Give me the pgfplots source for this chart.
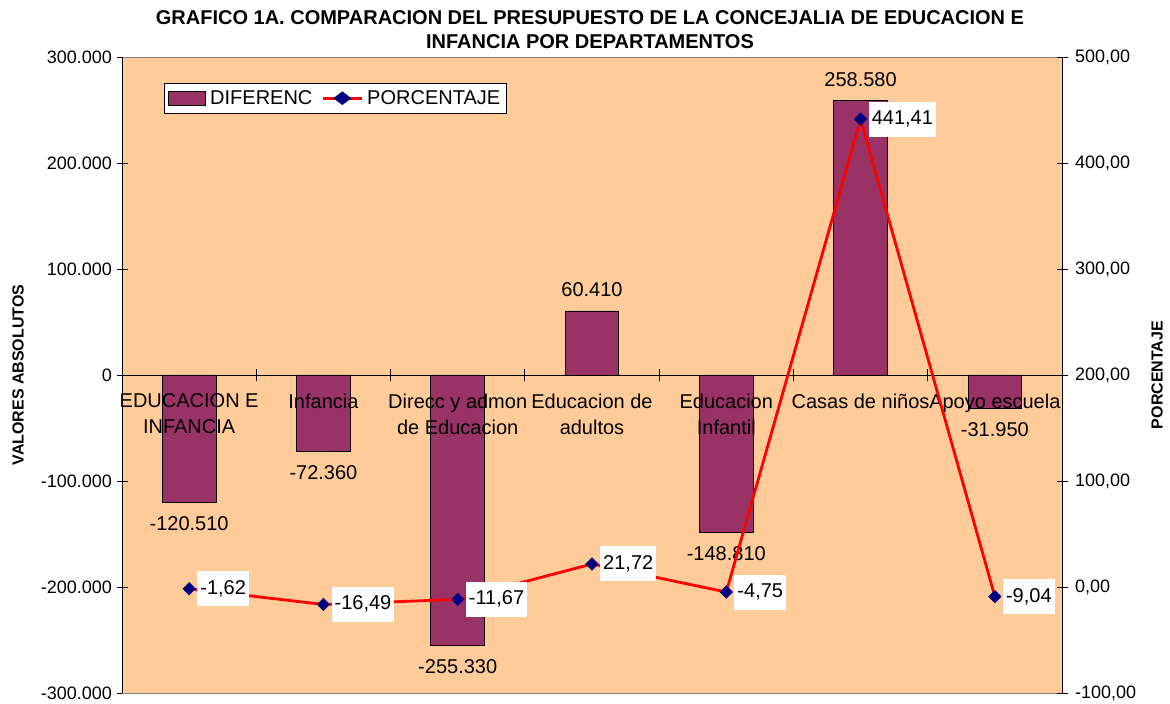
\documentclass[border=0pt]{standalone}
\usepackage{fontspec}
\setmainfont{Liberation Sans}
\usepackage{pgfplots}
\pgfplotsset{compat=1.18}
\definecolor{peach}{HTML}{FFCC99}
\definecolor{barc}{HTML}{993366}
\definecolor{navyc}{HTML}{000080}
\begin{document}
\begin{tikzpicture}[x=1pt,y=1pt]
\path[fill=white] (0,0) rectangle (1170,704);
\node[font=\fontsize{20}{24}\bfseries\selectfont, align=center] at (590,674)
  {GRAFICO 1A. COMPARACION DEL PRESUPUESTO DE LA CONCEJALIA DE EDUCACION E\\INFANCIA POR DEPARTAMENTOS};
\node[rotate=90, font=\fontsize{16}{18}\bfseries\selectfont] at (18,329) {VALORES ABSOLUTOS};
\node[rotate=90, font=\fontsize{16}{18}\bfseries\selectfont] at (1157,329) {PORCENTAJE};
\begin{axis}[
  at={(122pt,11pt)}, anchor=south west, width=940pt, height=636pt, scale only axis,
  xmin=-0.5, xmax=6.5, ymin=-300000, ymax=300000, ytick distance=100000,
  scaled y ticks=false,
  xtick=\empty, ytick pos=left,
  axis background/.style={fill=peach},
  axis line style={draw=gray},
  tick align=center, major tick length=11pt, tick style={black, line width=0.8pt},
  yticklabel style={xshift=-1pt, font=\fontsize{18}{20}\selectfont, /pgf/number format/.cd, fixed, precision=0, 1000 sep={.}, assume math mode=true},
  clip=false,
  legend style={at={(0.0447,0.959)}, anchor=north west, draw=black, fill=white, line width=0.8pt,
    font=\fontsize{20}{22}\selectfont, inner xsep=4pt, inner ysep=5pt,
    /tikz/every odd column/.style={column sep=2pt},
    /tikz/every even column/.style={column sep=7pt}},
  legend columns=2,
]
\addplot[ybar, bar width=0.4, fill=barc, draw=black, line width=0.9pt,
  legend image code/.code={\draw[fill=barc,draw=black,line width=0.8pt] (0pt,-7pt) rectangle (37pt,7pt);},
  nodes near coords, nodes near coords align=vertical, point meta=y,
  every node near coord/.append style={font=\fontsize{20}{22}\selectfont, inner ysep=13.5pt, text=black,
    /pgf/number format/.cd, fixed, precision=0, 1000 sep={.}, assume math mode=true}]
coordinates {(0,-120510) (1,-72360) (2,-255330) (3,60410) (4,-148810) (5,258580) (6,-31950)};
\addlegendentry{DIFERENC}
\addlegendimage{legend image code/.code={\draw[red,line width=2.8pt] (0pt,0pt) -- (39pt,0pt);
  \fill[navyc] (19.5pt,6.3pt) -- (27.9pt,0pt) -- (19.5pt,-6.3pt) -- (11.1pt,0pt) -- cycle;}}
\addlegendentry{PORCENTAJE}
\draw[black, line width=0.8pt] (axis cs:-0.5,0) -- (axis cs:6.5,0);
\draw[black, line width=0.8pt] ([yshift=-6pt]axis cs:0.5,0) -- ([yshift=6pt]axis cs:0.5,0);
\draw[black, line width=0.8pt] ([yshift=-6pt]axis cs:1.5,0) -- ([yshift=6pt]axis cs:1.5,0);
\draw[black, line width=0.8pt] ([yshift=-6pt]axis cs:2.5,0) -- ([yshift=6pt]axis cs:2.5,0);
\draw[black, line width=0.8pt] ([yshift=-6pt]axis cs:3.5,0) -- ([yshift=6pt]axis cs:3.5,0);
\draw[black, line width=0.8pt] ([yshift=-6pt]axis cs:4.5,0) -- ([yshift=6pt]axis cs:4.5,0);
\draw[black, line width=0.8pt] ([yshift=-6pt]axis cs:5.5,0) -- ([yshift=6pt]axis cs:5.5,0);
\draw[black, line width=0.9pt] (rel axis cs:0,0) -- (rel axis cs:0,1);
\begin{scope}[every node/.style={anchor=north, align=center, font=\fontsize{20}{26}\selectfont, yshift=-15pt}]
\node at (axis cs:0,0) {EDUCACION E\\INFANCIA};
\node at (axis cs:1,0) {Infancia};
\node at (axis cs:2,0) {Direcc y admon\\de Educacion};
\node at (axis cs:3,0) {Educacion de\\adultos};
\node at (axis cs:4,0) {Educacion\\Infantil};
\node at (axis cs:5,0) {Casas de niños};
\node at (axis cs:6,0) {Apoyo escuela};
\end{scope}
\end{axis}
\begin{axis}[
  at={(122pt,11pt)}, anchor=south west, width=940pt, height=636pt, scale only axis,
  xmin=-0.5, xmax=6.5, ymin=-100, ymax=500, ytick distance=100,
  axis y line*=right, axis x line=none,
  y axis line style={line width=0.9pt},
  tick align=center, major tick length=11pt, tick style={black, line width=0.8pt},
  yticklabel style={xshift=4pt, font=\fontsize{18}{20}\selectfont, /pgf/number format/.cd, fixed, fixed zerofill, precision=2, use comma, 1000 sep={}, assume math mode=true},
  clip=false,
]
\addplot[red, line width=2.8pt, mark=diamond*, mark size=6.3pt,
  mark options={solid, fill=navyc, draw=navyc, line width=0.4pt, xscale=1.33},
  nodes near coords, nodes near coords align={right}, point meta=y,
  every node near coord/.append style={font=\fontsize{20}{22}\selectfont, text=black, fill=white, xshift=8pt,
    inner xsep=3pt, inner ysep=8.5pt, text height=14.5pt, text depth=3.5pt,
    /pgf/number format/.cd, fixed, fixed zerofill, precision=2, use comma, 1000 sep={}, assume math mode=true}]
coordinates {(0,-1.62) (1,-16.49) (2,-11.67) (3,21.72) (4,-4.75) (5,441.41) (6,-9.04)};
\end{axis}
\end{tikzpicture}
\end{document}
